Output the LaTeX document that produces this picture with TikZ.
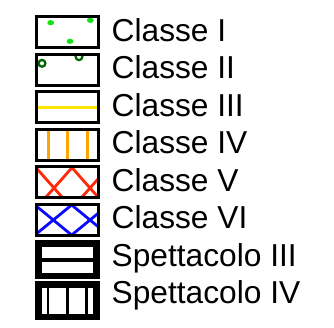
\documentclass[tikz,border=0pt]{standalone}
\usepackage{fontspec}
\setmainfont{Liberation Sans}
\usetikzlibrary{positioning}

\definecolor{dotgreen}{RGB}{20,225,20}
\definecolor{ringgreen}{RGB}{0,100,0}
\definecolor{lineyellow}{RGB}{255,228,0}
\definecolor{lineorange}{RGB}{255,165,0}
\definecolor{hatchred}{RGB}{255,40,10}
\definecolor{hatchblue}{RGB}{10,10,255}

\begin{document}
\begin{tikzpicture}[x=1pt, y=1pt, node distance=37.5pt, on grid,
    legbox/.style={draw, line width=3pt, minimum width=62pt, minimum height=31pt, inner sep=0pt},
    showbox/.style={fill=black, minimum width=65pt, minimum height=39pt, inner sep=0pt},
    legtext/.style={font=\fontsize{31.7}{36}\selectfont, inner sep=0pt}]
                \tikzset{
                    classI/.style={legbox, path picture={
                        \begin{scope}[shift={(path picture bounding box.center)}]
                        \foreach \dx/\dy in {-16.8/9.3, 22.8/11.7, 2.5/-9.3}
                            \fill[dotgreen, rotate around={45:(\dx,\dy)}] (\dx,\dy) ellipse (3.4pt and 2.6pt);
                        \end{scope}}},
                    classII/.style={legbox, path picture={
                        \begin{scope}[shift={(path picture bounding box.center)}]
                        \foreach \dx/\dy in {-25.5/6.2, 11.5/12.8}
                            \draw[ringgreen, line width=2.3pt] (\dx,\dy) circle (3.4pt);
                        \end{scope}}},
                    classIII/.style={legbox, path picture={
                        \draw[lineyellow, line width=3pt] (path picture bounding box.west) -- (path picture bounding box.east);}},
                    classIV/.style={legbox, path picture={
                        \begin{scope}[shift={(path picture bounding box.center)}]
                        \foreach \dx in {-19.5, 0, 19.5}
                            \draw[lineorange, line width=3pt] (\dx,-20) -- (\dx,20);
                        \end{scope}}},
                    classV/.style={legbox, path picture={
                        \begin{scope}[shift={(path picture bounding box.center)}, hatchred, line width=2.8pt]
                        \foreach \dx in {-49.5, -13.5, 22.5}
                            \draw (\dx-30,-39.9) -- (\dx+30,27.9);
                        \foreach \dx in {-13.5, 22.5}
                            \draw (\dx-30,27.9) -- (\dx+30,-39.9);
                        \end{scope}}},
                    classVI/.style={legbox, path picture={
                        \begin{scope}[shift={(path picture bounding box.center)}, hatchblue, line width=2.8pt]
                        \foreach \dx in {-50.9, -14.2, 22.5}
                            \draw (\dx-36,-30) -- (\dx+36,29);
                        \foreach \dx in {-14.2, 22.5}
                            \draw (\dx-36,29) -- (\dx+36,-30);
                        \end{scope}}},
                    showIII/.style={showbox, path picture={
                        \begin{scope}[shift={(path picture bounding box.center)}]
                        \fill[white] (-25.5,2) rectangle (25.5,12.5);
                        \fill[white] (-25.5,-2.5) rectangle (25.5,-13);
                        \end{scope}}},
                    showIV/.style={showbox, path picture={
                        \begin{scope}[shift={(path picture bounding box.center)}]
                        \fill[white] (-25.5,-13.5) rectangle (25.5,12.5);
                        \foreach \dx in {-19.5, 0, 19}
                            \draw[black, line width=2.5pt] (\dx,-14) -- (\dx,13);
                        \end{scope}}}
                }

                \useasboundingbox (0,0) rectangle (334,-327);

                % BOXES
                \node[classI] (b1) at (67.5,-32) {};
                \node[classII] (b2) [below=of b1] {};
                \node[classIII] (b3) [below=of b2] {};
                \node[classIV] (b4) [below=of b3] {};
                \node[classV] (b5) [below=of b4] {};
                \node[classVI] (b6) [below=of b5] {};
                \node[showIII] (b7) [below=40pt of b6] {};
                \node[showIV] (b8) [below=41pt of b7] {};

                % LABELS
                \node[legtext, anchor=base west] (l1) at (111.5,-41) {Classe I};
                \node (l2) [below=of l1.base west, legtext, anchor=base west] {Classe II};
                \node (l3) [below=of l2.base west, legtext, anchor=base west] {Classe III};
                \node (l4) [below=of l3.base west, legtext, anchor=base west] {Classe IV};
                \node (l5) [below=of l4.base west, legtext, anchor=base west] {Classe V};
                \node (l6) [below=of l5.base west, legtext, anchor=base west] {Classe VI};
                \node (l7) [below=of l6.base west, legtext, anchor=base west] {Spettacolo III};
                \node (l8) [below=of l7.base west, legtext, anchor=base west] {Spettacolo IV};

            \end{tikzpicture}
\end{document}
